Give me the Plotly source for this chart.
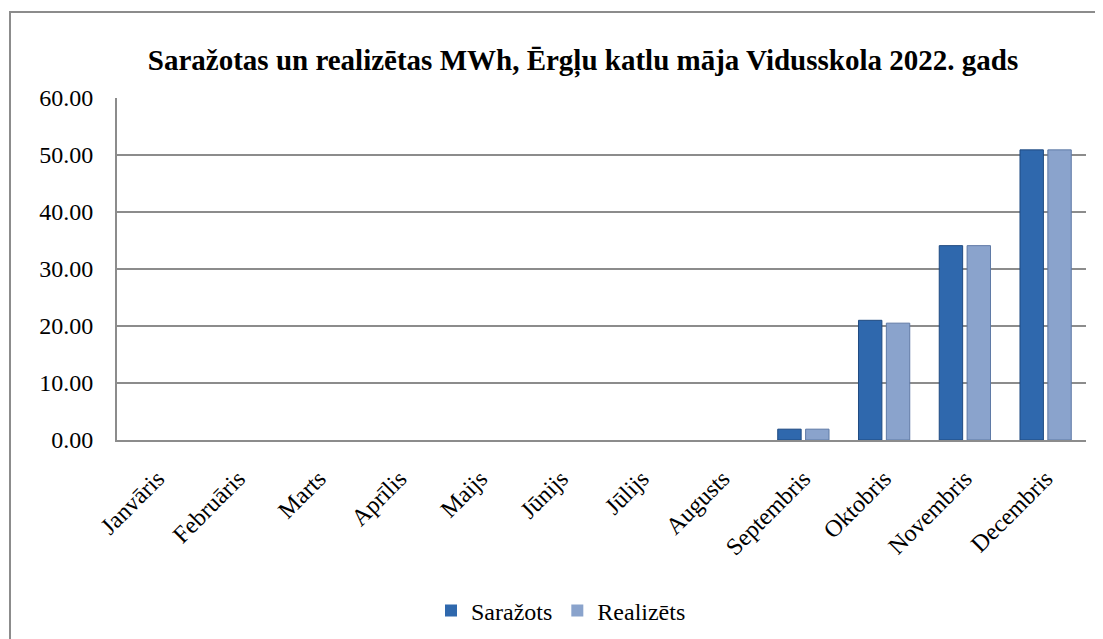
import plotly.graph_objects as go

months = ["Janvāris", "Februāris", "Marts", "Aprīlis", "Maijs", "Jūnijs",
          "Jūlijs", "Augusts", "Septembris", "Oktobris", "Novembris", "Decembris"]
sarazots = [0, 0, 0, 0, 0, 0, 0, 0, 1.9, 21.0, 34.1, 50.9]
realizets = [0, 0, 0, 0, 0, 0, 0, 0, 1.9, 20.5, 34.1, 50.9]
y_ticks = [0, 10, 20, 30, 40, 50, 60]

# page body has an 8px offset, so figure coords = screenshot coords - 8
W, H = 1095, 631
L, R, T, B = 109, 1078, 90, 432

fig = go.Figure()
fig.add_bar(x=months, y=sarazots, name="Saražots",
            marker=dict(color="#2f68ad",
                        line=dict(color="#1f4a80", width=[0 if v == 0 else 1 for v in sarazots])))
fig.add_bar(x=months, y=realizets, name="Realizēts",
            marker=dict(color="#8aa3cc",
                        line=dict(color="#5f7aa6", width=[0 if v == 0 else 1 for v in realizets])))

font = "Liberation Serif"
fig.update_layout(
    width=W, height=H,
    margin=dict(l=L, r=W - R, t=T, b=H - B, pad=0, autoexpand=False),
    paper_bgcolor="white", plot_bgcolor="white",
    barmode="group", bargap=0.31, bargroupgap=0.16,
    font=dict(family=font, size=24, color="black"),
    title=dict(text="<b>Saražotas un realizētas MWh, Ērgļu katlu māja Vidusskola 2022. gads</b>",
               x=575 / W, xanchor="center", y=1 - 52 / H, yanchor="middle",
               font=dict(family=font, size=29, color="black")),
    xaxis=dict(tickangle=-45, showgrid=False, showline=True, linecolor="#8c8c8c",
               linewidth=2, ticks="", tickfont=dict(family=font, size=24, color="black"),
               ticklabelstandoff=13, automargin=False),
    yaxis=dict(range=[0, 60], tickvals=y_ticks, tickformat=".2f",
               showgrid=True, gridcolor="#8c8c8c", gridwidth=1.5,
               showline=True, linecolor="#8c8c8c", linewidth=2,
               zeroline=False, ticks="", tickfont=dict(family=font, size=24, color="black"),
               ticklabelstandoff=17, automargin=False),
    legend=dict(orientation="h", x=(553 - L) / (R - L), xanchor="center",
                y=-(603 - B) / (B - T), yanchor="middle",
                font=dict(family=font, size=24, color="black"),
                itemwidth=30, traceorder="normal"),
    showlegend=True,
)

# outer chart border (only left and top edges fall inside the picture)
fig.add_shape(type="rect", xref="paper", yref="paper",
              x0=(2 - L) / (R - L), x1=(1130 - L) / (R - L),
              y0=(B - 660) / (B - T), y1=(B - 4) / (B - T),
              line=dict(color="#8c8c8c", width=2), layer="below")

fig.write_html("out.html")
